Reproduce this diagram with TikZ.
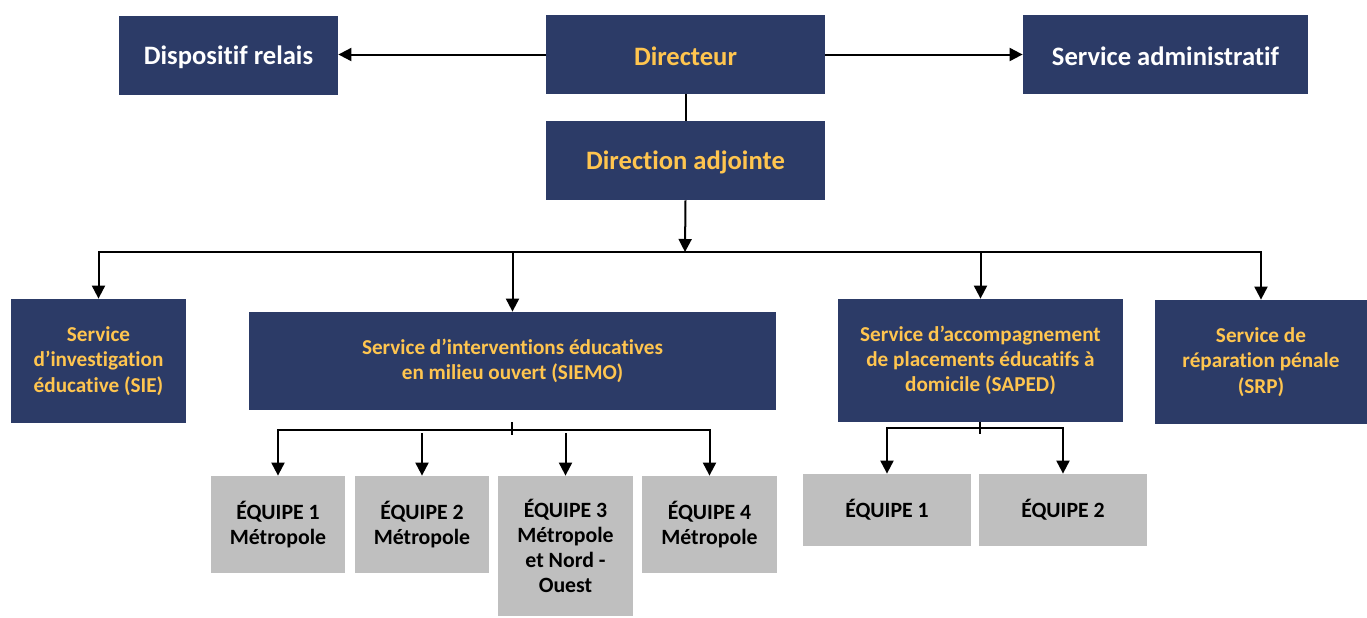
\documentclass[tikz,border=0pt]{standalone}
\usepackage{fontspec}
\setmainfont{Carlito}[Ligatures=NoCommon]
\usepackage{xcolor}
\usepackage{tikz}
\usetikzlibrary{positioning,calc,arrows.meta}
\definecolor{navy}{HTML}{2C3B67}
\definecolor{gold}{HTML}{FFC54F}
\definecolor{lightgray}{HTML}{BFBFBF}

\begin{document}
\begin{tikzpicture}[x=0.5pt, y=-0.5pt,
    head/.style={fill=navy, inner sep=2pt, align=center, text height=11pt, font=\fontsize{13.3}{16}\selectfont\bfseries},
    unit/.style={fill=navy, text=gold, inner sep=2pt, align=center, font=\fontsize{10.6}{12.6}\selectfont\bfseries},
    team/.style={fill=lightgray, text=black, inner sep=2pt, align=center, font=\fontsize{10.9}{12.5}\selectfont\bfseries},
    arr/.style={line width=1pt, -{Triangle[length=6.5pt,width=6.5pt]}},
    link/.style={line width=1pt}]
    \useasboundingbox (0,0) rectangle (1367,617);

    \node[head, text=white, minimum width=109.5pt, minimum height=39.5pt] (relais) at (228.5,55.5) {Dispositif relais};
    \node[head, text=gold, minimum width=139.5pt, minimum height=39.5pt] (dir) at (685.5,54.5) {Directeur};
    \node[head, text=white, minimum width=142.5pt, minimum height=39.5pt] (admin) at (1165.5,54.5) {Service administratif};
    \node[head, text=gold, minimum width=139.5pt, minimum height=39.5pt] (adj) at (685.5,160.5) {Direction adjointe};

    \node[unit, minimum width=87.5pt, minimum height=62pt] (sie) at (98.5,361) {Service\\d'investigation\\éducative (SIE)};
    \node[unit, minimum width=263.5pt, minimum height=49pt] (siemo) at (512.5,361) {Service d'interventions éducatives\\en milieu ouvert (SIEMO)};
    \node[unit, minimum width=142.5pt, minimum height=61.5pt] (saped) at (980.5,360.5) {Service d'accompagnement\\de placements éducatifs à\\domicile (SAPED)};
    \node[unit, minimum width=106pt, minimum height=62pt] (srp) at (1261,362) {Service de\\réparation pénale\\(SRP)};

    \node[team, minimum width=67pt, minimum height=48.5pt] (t1) at (278,524.5) {ÉQUIPE 1\\Métropole};
    \node[team, minimum width=67pt, minimum height=48.5pt] (t2) at (422,524.5) {ÉQUIPE 2\\Métropole};
    \node[team, minimum width=67.5pt, minimum height=70pt] (t3) at (565.5,546) {ÉQUIPE 3\\Métropole\\et Nord -\\Ouest};
    \node[team, minimum width=67.5pt, minimum height=48.5pt] (t4) at (709.5,524.5) {ÉQUIPE 4\\Métropole};

    \node[team, minimum width=84pt, minimum height=36pt] (p1) at (887,510) {ÉQUIPE 1};
    \node[team, minimum width=84pt, minimum height=36pt] (p2) at (1063,510) {ÉQUIPE 2};

    \coordinate (bus) at (685,252);
    \coordinate (sbus) at (512,430);
    \coordinate (pbus) at (980,428);

    \draw[arr] (dir.west) -- (dir.west -| relais.east);
    \draw[arr] (dir.east) -- (dir.east -| admin.west);
    \draw[link] (dir.south) -- (adj.north);
    \draw[arr] (adj.south) -- (bus);

    \draw[arr] (bus) -| (sie.north);
    \draw[arr] (bus) -| (siemo.north);
    \draw[arr] (bus) -| (saped.north);
    \draw[arr] (bus) -| (srp.north);

    \draw[link] ($(sbus)+(0,-8)$) -- ($(sbus)+(0,5)$);
    \draw[arr] (sbus) -| (t1.north);
    \draw[arr] (t2.north |- sbus) ++(0,3) -- (t2.north);
    \draw[arr] (t3.north |- sbus) ++(0,3) -- (t3.north);
    \draw[arr] (sbus) -| (t4.north);

    \draw[link] ($(pbus)+(0,-6)$) -- ($(pbus)+(0,6)$);
    \draw[arr] (pbus) -| (p1.north);
    \draw[arr] (pbus) -| (p2.north);
\end{tikzpicture}
\end{document}
